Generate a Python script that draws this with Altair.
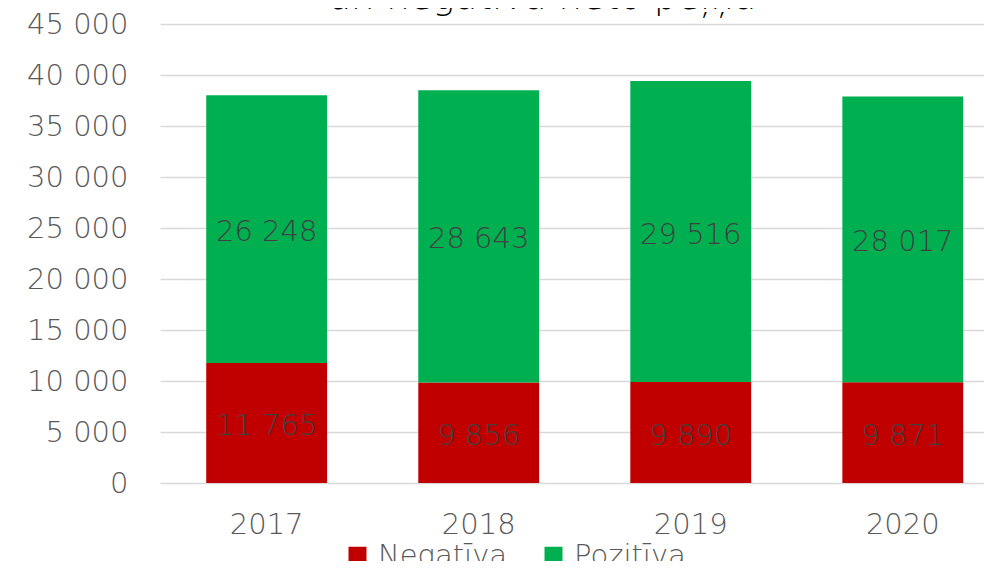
import altair as alt
import pandas as pd

years = ["2017", "2018", "2019", "2020"]
negative = [11765, 9856, 9890, 9871]
positive = [26248, 28643, 29516, 28017]
series = ["Negatīva", "Pozitīva"]
colors = ["#C00000", "#00B050"]
title_text = "un negatīvā neto peļņa"

rows = []
for i, y in enumerate(years):
    rows.append({"year": y, "series": series[0], "order": 0, "value": negative[i]})
    rows.append({"year": y, "series": series[1], "order": 1, "value": positive[i]})
df = pd.DataFrame(rows)
df["label"] = df["value"].map(lambda v: f"{v:,}".replace(",", " "))

FONT = "DejaVu Sans"
LIGHT = 200

x_enc = alt.X(
    "year:N",
    sort=years,
    scale=alt.Scale(paddingInner=0.43, paddingOuter=0.158, align=0.69),
    axis=alt.Axis(
        title=None, labelAngle=0, ticks=False, domain=False, grid=False,
        labelFontSize=29, labelColor="#595959", labelFont=FONT, labelFontWeight=LIGHT,
        labelPadding=27,
    ),
)

base = alt.Chart(df)

bars = base.mark_bar().encode(
    x=x_enc,
    y=alt.Y(
        "value:Q",
        stack="zero",
        scale=alt.Scale(domain=[0, 45000], nice=False),
        axis=alt.Axis(
            title=None, values=list(range(0, 45001, 5000)), ticks=False, domain=False,
            grid=True, gridColor="#d9d9d9", gridWidth=1.5,
            labelFontSize=29, labelColor="#595959", labelFont=FONT, labelFontWeight=LIGHT,
            labelPadding=32,
            labelExpr="replace(format(datum.value, ','), ',', ' ')",
        ),
    ),
    color=alt.Color(
        "series:N",
        scale=alt.Scale(domain=series, range=colors),
        legend=alt.Legend(
            title=None, orient="none", direction="horizontal",
            legendX=183, legendY=517, symbolType="square", symbolSize=324,
            symbolStrokeWidth=0, labelFontSize=29, labelColor="#595959",
            labelFont=FONT, labelFontWeight=LIGHT, labelOffset=6, columnPadding=31,
            padding=0,
        ),
    ),
    order=alt.Order("order:Q"),
)

labels = base.transform_stack(
    stack="value", groupby=["year"], as_=["v0", "v1"], sort=[alt.SortField("order")]
).transform_calculate(
    mid="(datum.v0 + datum.v1) / 2"
).mark_text(
    fontSize=29, color="#404040", font=FONT, fontWeight=LIGHT, baseline="middle", dy=3
).encode(
    x=alt.X("year:N", sort=years),
    y=alt.Y("mid:Q"),
    text="label:N",
)

title_df = pd.DataFrame({"t": [title_text]})
title = alt.Chart(title_df).mark_text(
    fontSize=37, color="#000000", font=FONT, fontWeight=LIGHT, baseline="alphabetic", align="center"
).encode(
    x=alt.value(382), y=alt.value(-15), text="t:N"
)

chart = alt.layer(bars, labels, title).properties(
    width=824,
    height=459,
    padding={"left": 152, "top": 16, "right": 0, "bottom": 78},
    autosize=alt.AutoSizeParams(type="none"),
).configure_view(stroke=None)

chart.save("out.html", embed_options={"renderer": "svg", "actions": False})
